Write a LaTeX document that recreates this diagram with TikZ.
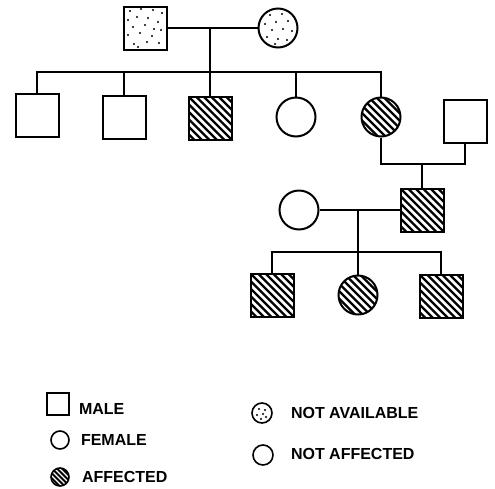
\documentclass[tikz,border=0pt]{standalone}
\usepackage{fontspec}
\setmainfont{Liberation Sans}
\usetikzlibrary{positioning}

\tikzset{
  male/.style={draw, rectangle, minimum size=43pt, inner sep=0pt},
  female/.style={draw, circle, minimum size=39pt, inner sep=0pt},
  hatch/.style={path picture={
      \foreach \k in {-67.5,-60,...,67.5}
        \draw[line width=2.2pt] ([xshift=\k pt]path picture bounding box.center)
          ++(-40pt,40pt) -- ++(80pt,-80pt);}},
  dots/.style={path picture={
      \foreach \a/\b in {#1}
        \fill ([shift={(\a pt,\b pt)}]path picture bounding box.center) circle (1.2pt);}},
  lbl/.style={anchor=west, inner sep=0pt, font=\fontsize{16}{19}\selectfont\bfseries},
  keysq/.style={draw, rectangle, minimum size=22pt, inner sep=0pt, line width=1.6pt},
  keyci/.style={draw, circle, minimum size=18pt, inner sep=0pt, line width=1.6pt},
}

\begin{document}
\begin{tikzpicture}[x=1pt, y=-1pt, line width=2pt]
  \useasboundingbox (0,0) rectangle (495,488);

  % generation I
  \node[male, dots={-15/17,-4/19,8/18,17/15,-17/8,-8/11,3/10,13/6,-12/1,0/3,16/-2,
      -17/-7,-5/-5,7/-8,-11/-16,2/-14,14/-15,-7/-19,9/-1}] (gf) at (145,28) {};
  \node[female, dots={-8/13,4/14,-13/4,-2/6,10/7,-6/-2,5/-1,14/-3,-11/-9,0/-11,9/-12,-3/-16}]
      (gm) at (278,28) {};
  \coordinate (m1) at (210,28);
  \coordinate (s1) at (210,72);
  \draw (gf) -- (gm);
  \draw (m1) -- (s1);

  % generation II
  \node[male] (c1) at (37,115) {};
  \node[male] (c2) at (124,117) {};
  \node[male, hatch] (c3) at (210,118) {};
  \node[female] (c4) at (296,117) {};
  \node[female, hatch] (c5) at (381,117) {};
  \node[male] (sp) at (465,121) {};

  \draw (c1.north) |- (s1) -| (c5.north);
  \draw (c2.north) -- (c2.north |- s1);
  \draw (c4.north) -- (c4.north |- s1);
  \draw (s1) -- (c3.north);

  \coordinate (m2) at (422,164);
  \draw (c5.south) |- (m2) -| (sp.south);

  % generation III
  \node[male, hatch] (g3) at (422,210) {};
  \node[female] (w) at (299,210) {};
  \draw (m2) -- (g3.north);
  \draw (w) -- (g3);
  \coordinate (m3) at (358,210);
  \coordinate (s3) at (358,252);
  \draw (m3) -- (s3);

  \node[male, hatch] (d1) at (272,295) {};
  \node[female, hatch] (d2) at (358,295) {};
  \node[male, hatch] (d3) at (441,296) {};
  \draw (d1.north) |- (s3) -| (d3.north);
  \draw (s3) -- (d2.north);

  % key
  \node[keysq] (lm) at (58,404) {};
  \node[keyci] (lf) at (60,440) {};
  \node[keyci, fill=black, path picture={
      \foreach \k in {-12,-7,...,13}
        \draw[white, line width=1.1pt] ([xshift=\k pt]path picture bounding box.center)
          ++(-20pt,20pt) -- ++(40pt,-40pt);}] (la) at (60,477) {};
  \node[keyci, minimum size=20pt, dots={-3/4,3/3,-5/-2,1/-1,4/-4,-1/-6}] (ln) at (262,413) {};
  \node[keyci, minimum size=20pt] (lu) at (263,455) {};

  \node[lbl] (tm) at (78,409) {MALE};
  \node[lbl] (tf) at (80,440) {FEMALE};
  \node[lbl] (ta) at (81,477) {AFFECTED};
  \node[lbl] (tn) at (290,413) {NOT AVAILABLE};
  \node[lbl] (tu) at (290,454) {NOT AFFECTED};
\end{tikzpicture}
\end{document}
